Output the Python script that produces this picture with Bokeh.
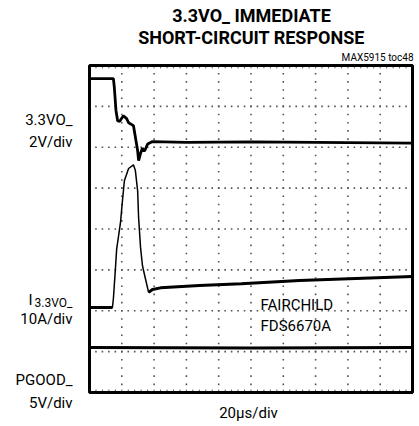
from bokeh.plotting import figure
from bokeh.models import Range1d, Label
from bokeh.embed import file_html
from bokeh.resources import INLINE

# ---- data (divisions: x 0..10, y 0..8) ----
t_v = [0.0, 0.74, 0.77, 0.82, 0.87, 0.93, 1.05, 1.15, 1.21, 1.36, 1.42, 1.49, 1.52,
       1.58, 1.64, 1.69, 1.73, 1.80, 1.95, 3.0, 5.0, 7.0, 10.0]
v_out = [7.68, 7.68, 7.45, 6.9, 6.65, 6.63, 6.77, 6.7, 6.6, 6.53, 6.25, 5.92, 5.67,
         5.85, 5.98, 5.9, 5.95, 6.08, 6.14, 6.12, 6.13, 6.12, 6.1]

t_i = [0.0, 0.71, 0.74, 0.80, 0.84, 0.96, 1.02, 1.08, 1.21, 1.36, 1.42, 1.49, 1.52,
       1.58, 1.64, 1.73, 1.83, 1.95, 2.2, 3.4, 4.7, 6.5, 10.0]
i_out = [2.08, 2.08, 2.3, 3.0, 3.5, 4.16, 4.69, 5.18, 5.48, 5.57, 5.43, 4.94, 4.28,
         3.55, 3.1, 2.79, 2.45, 2.52, 2.56, 2.62, 2.66, 2.74, 2.84]

t_pg = [0.0, 5.0, 10.0]
pgood = [1.1, 1.09, 1.1]

FONT = "Roboto"

# pixel geometry of the scope screen inside the canvas
W, H = 417, 424
X0, PX_PER_DIV_X = 89, 32.3
Y0, PX_PER_DIV_Y = 392, 40.875

p = figure(width=W, height=H,
           x_range=Range1d(-X0 / PX_PER_DIV_X, (W - X0) / PX_PER_DIV_X),
           y_range=Range1d((Y0 - H) / PX_PER_DIV_Y, Y0 / PX_PER_DIV_Y),
           x_axis_type=None, y_axis_type=None, toolbar_location=None,
           output_backend="svg", min_border=0)
p.outline_line_color = None
p.background_fill_color = "white"
p.border_fill_color = "white"

# graticule dots
gx, gy = [], []
for k in range(1, 10):
    for j in range(1, 40):
        gx.append(k); gy.append(j * 0.2)
for k in range(1, 8):
    for j in range(1, 50):
        gx.append(j * 0.2); gy.append(k)
p.scatter(gx, gy, marker="square", size=1.6, color="#555555", line_width=0)

# edge ticks top/bottom
tx = [j * 0.2 for j in range(1, 50)]
p.segment(x0=tx, y0=[0] * len(tx), x1=tx, y1=[0.07] * len(tx), line_color="#555555", line_width=1)
p.segment(x0=tx, y0=[8] * len(tx), x1=tx, y1=[7.93] * len(tx), line_color="#555555", line_width=1)

# screen frame
p.quad(left=[0], right=[10], bottom=[0], top=[8], fill_color=None,
       line_color="black", line_width=3)

# traces
p.line(t_v, v_out, line_color="black", line_width=2.8)
p.line(t_i, i_out, line_color="black", line_width=1.5)
p.line(t_i[:2], i_out[:2], line_color="black", line_width=3)
p.line(t_i[16:], i_out[16:], line_color="black", line_width=3)
p.line(t_pg, pgood, line_color="black", line_width=3)

def px(x):
    return (x - X0) / PX_PER_DIV_X

def py(y):
    return (Y0 - y) / PX_PER_DIV_Y

def lab(x, y, text, size, align="right", bold=False):
    p.add_layout(Label(x=px(x), y=py(y), text=text, text_font=FONT, text_font_size=f"{size}px",
                       text_align=align, text_baseline="middle", text_color="black",
                       text_font_style="bold" if bold else "normal"))

lab(251, 15, "3.3VO_ IMMEDIATE", 18, "center", True)
lab(251, 37, "SHORT-CIRCUIT RESPONSE", 18, "center", True)
lab(413, 57, "MAX5915 toc48", 10, "right")

lab(72, 119, "3.3VO_", 15)
lab(72, 141, "2V/div", 15)
lab(32, 299, "I", 15)
lab(72, 302, "3.3VO_", 12)
lab(72, 318.5, "10A/div", 15)
lab(72, 379.5, "PGOOD_", 15)
lab(72, 402, "5V/div", 15)

lab(260, 304, "FAIRCHILD", 15, "left")
lab(260, 325, "FDS6670A", 15, "left")
lab(248, 412, "20µs/div", 15, "center")

open("out.html", "w").write(file_html(p, INLINE))
